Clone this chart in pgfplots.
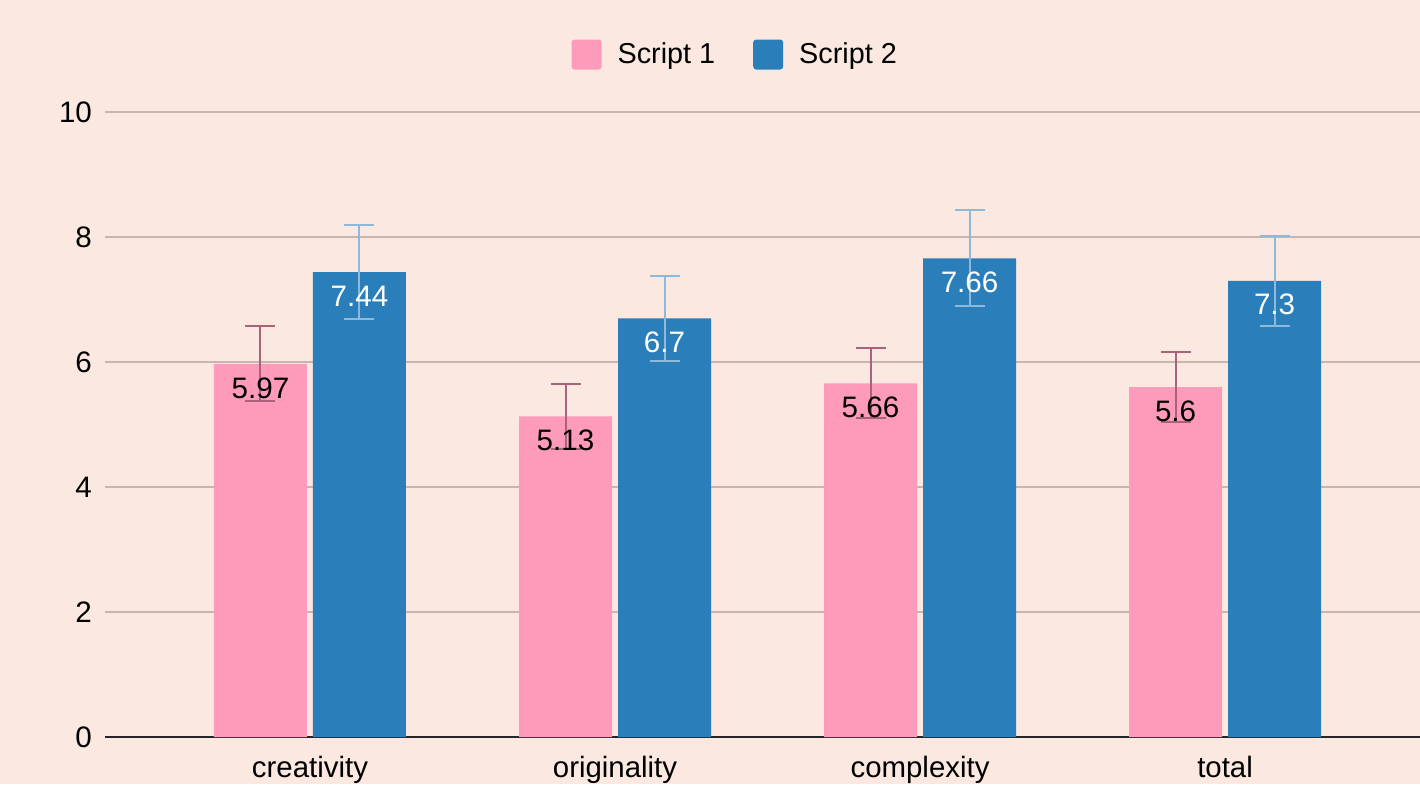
\documentclass[border=0pt]{standalone}
\usepackage{fontspec}
\setmainfont{Liberation Sans}
\usepackage{pgfplots}
\usepackage{pgfplotstable}
\pgfplotsset{compat=1.18}
\definecolor{bg}{HTML}{FAE8E1}
\definecolor{pinkbar}{HTML}{FF9BBA}
\definecolor{bluebar}{HTML}{2A7FBB}
\definecolor{pinkerr}{HTML}{A8627C}
\definecolor{blueerr}{HTML}{8EB9DA}
\definecolor{gridc}{HTML}{C9B5B0}
\pgfplotstableread{
x s1 e1 s2 e2
0 5.97 0.60 7.44 0.75
1 5.13 0.52 6.70 0.68
2 5.66 0.56 7.66 0.77
3 5.60 0.56 7.30 0.72
}\data
\begin{document}
\begin{tikzpicture}
\fill[bg] (0,0) rectangle (710pt,392pt);
\begin{axis}[
  at={(52.5pt,23.5pt)}, anchor=south west,
  scale only axis, width=657.5pt, height=312.5pt,
  xmin=-0.672, xmax=3.639, ymin=0, ymax=10,
  ybar=3pt, bar width=46.5pt,
  axis line style={draw=none},
  major tick length=0pt,
  ytick={0,2,4,6,8,10},
  ymajorgrids, grid style={gridc, line width=0.8pt},
  extra y ticks={0}, extra y tick labels={},
  extra y tick style={grid style={black!85, line width=1pt}},
  xtick={0,1,2,3},
  xticklabels={creativity,originality,complexity,total},
  xticklabel style={font=\fontsize{14.7}{16}\selectfont, yshift=-6pt},
  yticklabel style={font=\fontsize{14.8}{16}\selectfont, xshift=-3pt},
  /pgf/number format/assume math mode=true,
  legend style={draw=none, fill=none, at={(0.48,1.092)}, anchor=center,
    font=\fontsize{14.4}{16}\selectfont, legend columns=2,
    /tikz/every even column/.append style={column sep=17pt},
    /tikz/every odd column/.append style={column sep=6pt}},
  legend image code/.code={\fill[#1, rounded corners=1.5pt] (0pt,-7.5pt) rectangle (15pt,7.5pt);},
  nodes near coords,
  nodes near coords style={anchor=center, yshift=-12pt, font=\fontsize{14.8}{16}\selectfont},
]
\addplot[fill=pinkbar, draw=none,
  nodes near coords style={text=black},
  error bars/.cd, y dir=both, y explicit,
  error bar style={pinkerr, line width=1pt},
  error mark options={pinkerr, line width=1pt, mark size=7.5pt, rotate=90}]
  table[x=x, y=s1, y error=e1] {\data};
\addplot[fill=bluebar, draw=none,
  nodes near coords style={text=white},
  error bars/.cd, y dir=both, y explicit,
  error bar style={blueerr, line width=1pt},
  error mark options={blueerr, line width=1pt, mark size=7.5pt, rotate=90}]
  table[x=x, y=s2, y error=e2] {\data};
\legend{Script 1, Script 2}
\end{axis}
\pgfresetboundingbox
\useasboundingbox (0,0) rectangle (710pt,392pt);
\end{tikzpicture}
\end{document}
